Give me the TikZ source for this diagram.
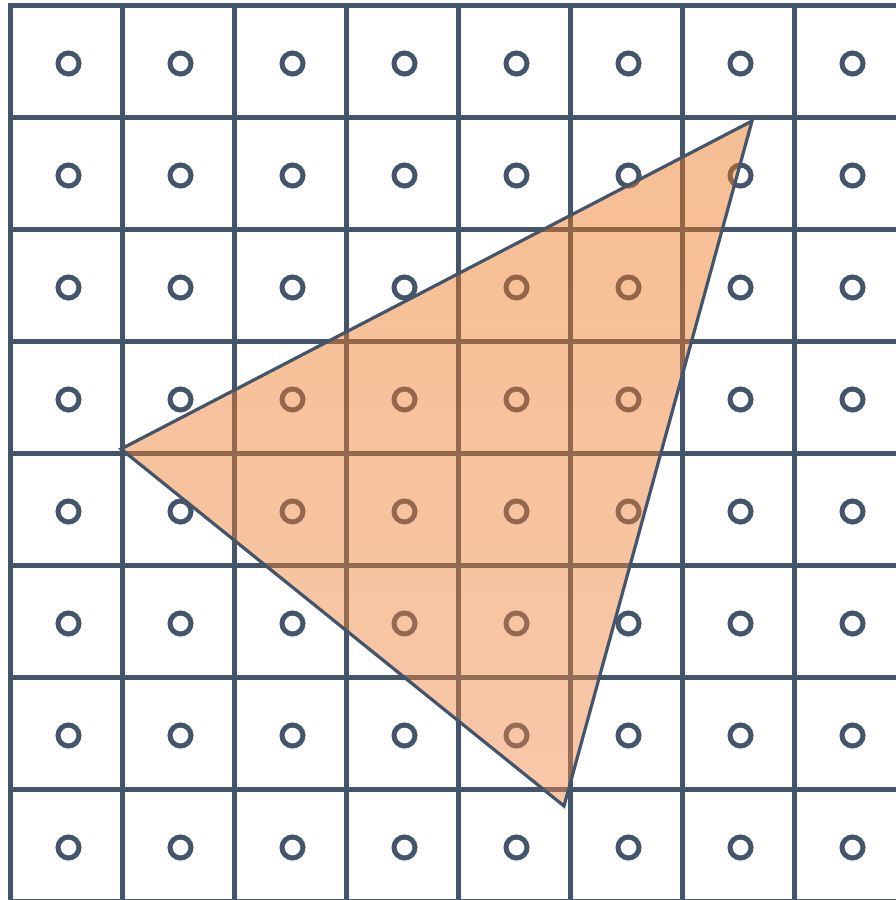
\documentclass[tikz,border=0pt]{standalone}
\begin{document}
\begin{tikzpicture}[x=1pt,y=-1pt,
  gridline/.style={draw=slate,line width=5.5pt},
  sample/.style={draw=slate,line width=5pt},
  tri/.style={draw=slate,line width=3.2pt,line join=miter}]
\definecolor{slate}{RGB}{68,84,106}
\definecolor{tricol}{RGB}{236,118,24}
\definecolor{tricolb}{RGB}{240,136,70}
\useasboundingbox (0,0) rectangle (896,900);
\begin{scope}
\clip (0,0) rectangle (896,900);
\foreach \k in {0,...,8}{
  \draw[gridline] (10.5+112*\k,3) -- (10.5+112*\k,910);
  \draw[gridline] (8,5.5+112*\k) -- (910,5.5+112*\k);
}
\foreach \i in {0,...,7}{
  \foreach \j in {0,...,7}{
    \draw[sample] (68.5+112*\i,63.5+112*\j) circle (10.5);
  }
}
\shade[top color=tricol,bottom color=tricolb,fill opacity=0.47,opacity=0.47] (752,121) -- (121,449) -- (564,806) -- cycle;
\draw[tri] (752,121) -- (121,449) -- (564,806) -- cycle;
\end{scope}
\end{tikzpicture}
\end{document}
